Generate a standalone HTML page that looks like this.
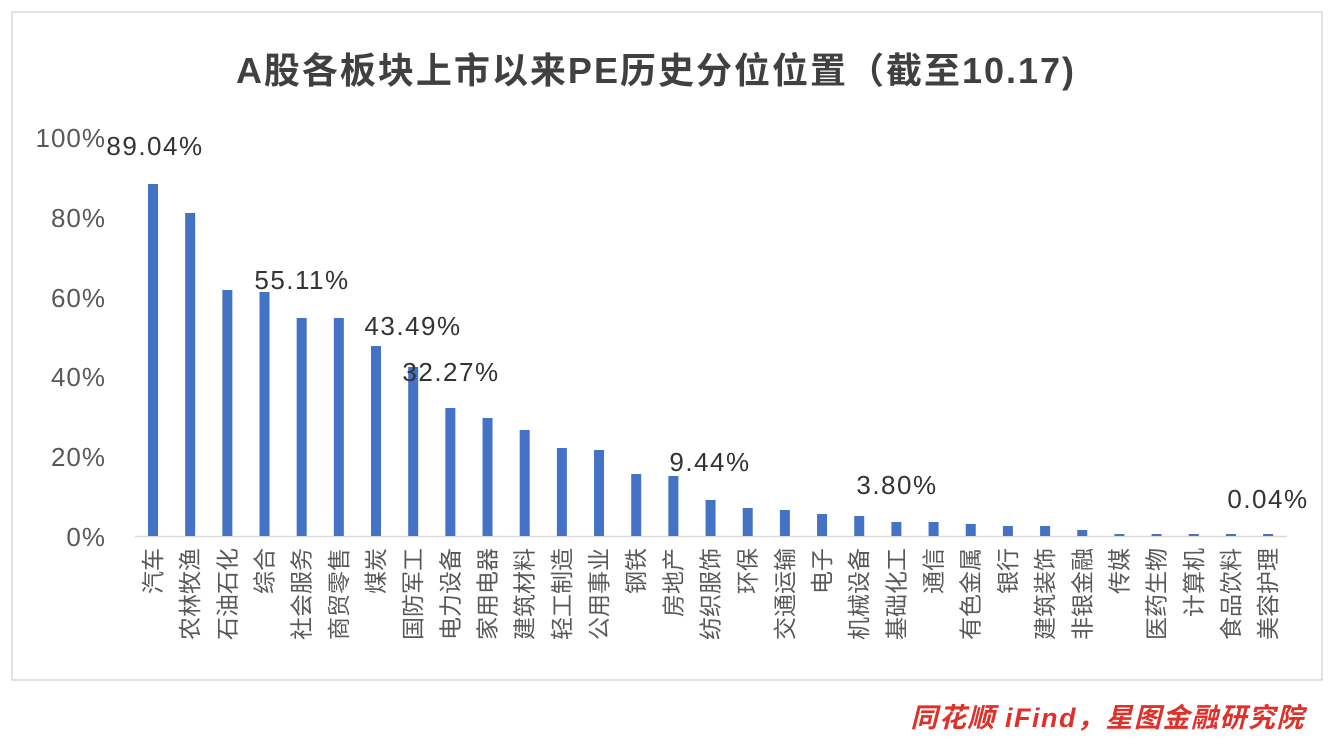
<!DOCTYPE html>
<html><head><meta charset="utf-8"><style>
html,body{margin:0;padding:0;background:#fff;}
</style></head><body>
<svg width="1334" height="740" xmlns="http://www.w3.org/2000/svg" font-family="'Liberation Sans','Noto Sans CJK SC',sans-serif">
<rect x="0" y="0" width="1334" height="740" fill="#fff"/>
<rect x="12" y="12" width="1310" height="668" fill="none" stroke="#d9d9d9" stroke-width="1.5"/>
<text x="656" y="83" text-anchor="middle" font-size="36" font-weight="bold" letter-spacing="2" fill="#404040">A股各板块上市以来PE历史分位位置（截至10.17)</text>
<g font-size="26" fill="#595959" text-anchor="end" letter-spacing="1">
<text x="106" y="147">100%</text>
<text x="106" y="227">80%</text>
<text x="106" y="307">60%</text>
<text x="106" y="386">40%</text>
<text x="106" y="466">20%</text>
<text x="106" y="546">0%</text>
</g>
<line x1="135" y1="536.5" x2="1287" y2="536.5" stroke="#d9d9d9" stroke-width="1.5"/>
<g id="bars" fill="#4472c4"></g>
<g id="labels" font-size="23" fill="#595959"></g>
<g font-size="26" fill="#333" text-anchor="middle" letter-spacing="1.5">
<text x="155" y="155">89.04%</text>
<text x="302" y="289">55.11%</text>
<text x="413" y="335">43.49%</text>
<text x="451" y="381">32.27%</text>
<text x="710" y="471">9.44%</text>
<text x="897" y="494">3.80%</text>
<text x="1268" y="508">0.04%</text>
</g>
<text x="1305" y="727" text-anchor="end" font-size="27" font-style="italic" font-weight="bold" letter-spacing="1.5" fill="#e0302a">同花顺 iFind，星图金融研究院</text>
<script>
var names=["汽车","农林牧渔","石油石化","综合","社会服务","商贸零售","煤炭","国防军工","电力设备","家用电器","建筑材料","轻工制造","公用事业","钢铁","房地产","纺织服饰","环保","交通运输","电子","机械设备","基础化工","通信","有色金属","银行","建筑装饰","非银金融","传媒","医药生物","计算机","食品饮料","美容护理"];
var tops=[184,213,290,292,318,318,346,367,408,418,430,448,450,474,476,500,508,510,514,516,522,522,524,526,526,530,534,534,534,534,534];
var ns="http://www.w3.org/2000/svg",b=document.getElementById("bars"),l=document.getElementById("labels");
for(var i=0;i<31;i++){var cx=153+i*37.17;
var r=document.createElementNS(ns,"rect");r.setAttribute("x",cx-5);r.setAttribute("y",tops[i]);r.setAttribute("width",10);r.setAttribute("height",536-tops[i]);b.appendChild(r);
var t=document.createElementNS(ns,"text");t.setAttribute("transform","translate("+(cx+8)+",548) rotate(-90)");t.setAttribute("text-anchor","end");t.textContent=names[i];l.appendChild(t);}
</script>
</svg>
</body></html>
